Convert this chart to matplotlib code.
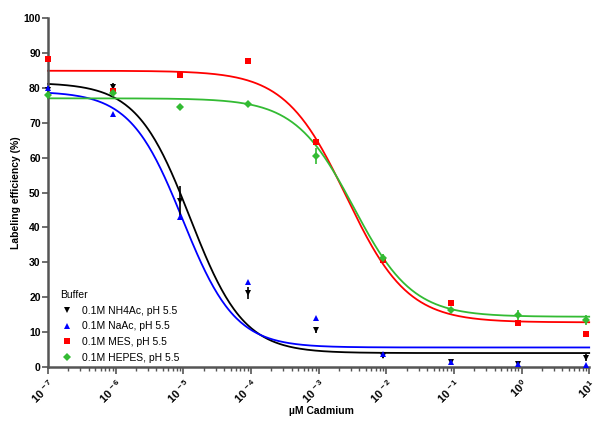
import numpy as np
import matplotlib
matplotlib.use("Agg")
import matplotlib.pyplot as plt
from matplotlib.lines import Line2D
from matplotlib.ticker import LogLocator, NullFormatter

plt.rcParams['font.family'] = ['Liberation Sans', 'DejaVu Sans']
plt.rcParams['mathtext.fontset'] = 'custom'
plt.rcParams['mathtext.bf'] = 'Liberation Sans:bold'
plt.rcParams['mathtext.rm'] = 'Liberation Sans'

# concentrations (uM Cadmium)
conc = [1e-7, 9e-7, 9e-6, 9e-5, 9e-4, 9e-3, 9e-2, 9e-1, 9.0]

series_names = ["0.1M NH4Ac, pH 5.5", "0.1M NaAc, pH 5.5",
                "0.1M MES, pH 5.5", "0.1M HEPES, pH 5.5"]

nh4ac = [79.5, 80.3, 47.5, 21.3, 10.6, 3.2, 1.5, 1.0, 2.6]
nh4ac_err = [0.3, 1.2, 4.3, 1.7, 0.8, 0.5, 0.3, 0.3, 1.0]
naac = [80.1, 72.4, 43.1, 24.3, 14.0, 3.8, 1.5, 1.0, 0.7]
naac_err = [0.3, 0.3, 0.4, 0.3, 0.3, 0.3, 0.3, 0.3, 0.3]
mes = [88.2, 79.2, 83.6, 87.6, 64.4, 30.7, 18.2, 12.7, 9.4]
mes_err = [0.3, 0.3, 0.3, 0.3, 0.3, 0.3, 0.3, 0.3, 0.3]
hepes = [77.9, 78.6, 74.6, 75.4, 60.5, 31.1, 16.3, 14.9, 13.5]
hepes_err = [0.5, 0.6, 0.8, 0.4, 2.3, 1.4, 0.4, 1.4, 1.5]

# fitted sigmoidal dose-response parameters: top, bottom, logIC50, hill slope
fit_top = [81.5, 79.0, 84.9, 77.0]
fit_bottom = [4.0, 5.6, 12.8, 14.4]
fit_logic50 = [-4.90, -5.01, -2.59, -2.48]
fit_hill = [1.10, 1.12, 0.96, 1.00]

colors = ["#000000", "#0000ff", "#ff0000", "#33bb33"]
markers = ["v", "^", "s", "D"]
msizes = [5, 5, 5, 4.5]
values = [nh4ac, naac, mes, hepes]
errs = [nh4ac_err, naac_err, mes_err, hepes_err]

fig = plt.figure(figsize=(6.0, 4.3), dpi=100)
ax = fig.add_axes([0.08, 0.1465, 0.902, 0.8115])

xs = np.logspace(-7, 1, 400)
for i in range(4):
    yfit = fit_bottom[i] + (fit_top[i] - fit_bottom[i]) / (
        1 + 10 ** ((np.log10(xs) - fit_logic50[i]) * fit_hill[i]))
    ax.plot(xs, yfit, color=colors[i], lw=1.3, zorder=2, clip_on=False)

for i in range(4):
    ax.errorbar(conc, values[i], yerr=errs[i], fmt=markers[i], color=colors[i],
                ms=msizes[i], mew=0, capsize=3, elinewidth=1.2, capthick=1.2,
                zorder=3, clip_on=False)

ax.set_xscale('log')
ax.set_xlim(1e-7, 1e1)
ax.set_ylim(0, 100)

for s in ['top', 'right']:
    ax.spines[s].set_visible(False)
for s in ['left', 'bottom']:
    ax.spines[s].set_linewidth(1.8)
    ax.spines[s].set_color('#555555')

ax.xaxis.set_minor_locator(LogLocator(base=10, subs=np.arange(2, 10), numticks=20))
ax.xaxis.set_minor_formatter(NullFormatter())
decades = list(range(-7, 2))
ax.set_xticks([10.0 ** d for d in decades])
ax.set_xticklabels([r'$\mathbf{10^{\,%d}}$' % d for d in decades],
                   rotation=45, ha='right', va='top', rotation_mode='anchor',
                   fontsize=8)
ax.tick_params(axis='x', which='major', direction='out', length=5, width=1.2,
               color='#555555', pad=2)
ax.tick_params(axis='x', which='minor', direction='out', length=3, width=1.0,
               color='#555555')

ax.set_yticks(np.arange(0, 101, 10))
ax.set_yticklabels([str(v) for v in range(0, 101, 10)], fontsize=7.5,
                   fontweight='bold')
ax.tick_params(axis='y', which='major', direction='out', length=4.5, width=1.2,
               color='#555555', pad=0.8)

ax.set_ylabel('Labeling efficiency (%)', fontsize=7.5, fontweight='bold',
              labelpad=2)
fig.text(321 / 600, 1 - 411 / 430, '\u00b5M Cadmium', fontsize=7.5,
         fontweight='bold', ha='center', va='center')

handles = [Line2D([], [], ls='none', marker=markers[i], color=colors[i],
                  ms=msizes[i], mew=0) for i in range(4)]
leg = ax.legend(handles, series_names, title='Buffer', loc='lower left',
                bbox_to_anchor=(0.015, 0.0), frameon=False, fontsize=7.5,
                title_fontsize=7.5, handletextpad=0.9, labelspacing=0.55,
                handlelength=1.2, borderaxespad=0)
leg._legend_box.align = 'left'

fig.savefig('out.png', dpi=100)
